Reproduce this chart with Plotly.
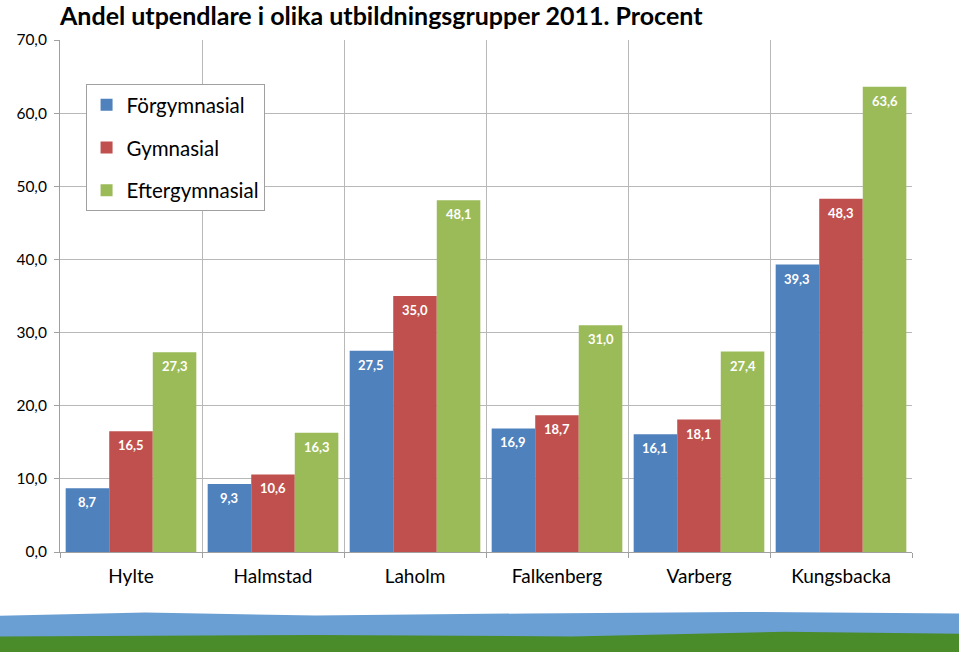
import plotly.graph_objects as go

categories = ["Hylte", "Halmstad", "Laholm", "Falkenberg", "Varberg", "Kungsbacka"]
forgymnasial = [8.7, 9.3, 27.5, 16.9, 16.1, 39.3]
gymnasial = [16.5, 10.6, 35.0, 18.7, 18.1, 48.3]
eftergymnasial = [27.3, 16.3, 48.1, 31.0, 27.4, 63.6]
series_names = ["Förgymnasial", "Gymnasial", "Eftergymnasial"]
colors = ["#4F81BD", "#C0504D", "#9BBB59"]
yticks = [0, 10, 20, 30, 40, 50, 60, 70]

def fmt(v):
    return f"{v:.1f}".replace(".", ",")

FONT = "Lato"
BARGAP = 0.08
bar_w = (1 - BARGAP) / 3

fig = go.Figure()
annotations = []
for k, (name, vals) in enumerate(zip(series_names, [forgymnasial, gymnasial, eftergymnasial])):
    fig.add_trace(go.Bar(
        x=categories, y=vals, name=name, legendgroup=name,
        marker=dict(color=colors[k], line=dict(width=0)),
        hoverinfo="x+y+name",
    ))
    for i, v in enumerate(vals):
        annotations.append(dict(
            x=i + (k - 1) * bar_w, y=v, xref="x", yref="y",
            text=f"<b>{fmt(v)}</b>", showarrow=False,
            yanchor="middle", xanchor="center", yshift=-14,
            font=dict(color="white", size=13, family=FONT),
        ))

annotations.append(dict(
    text="<b>Andel utpendlare i olika utbildningsgrupper 2011. Procent</b>",
    xref="paper", yref="paper", x=-0.004, y=1.0, yshift=25, xanchor="left", yanchor="middle",
    showarrow=False, font=dict(size=25, family=FONT, color="black"),
))

fig.update_layout(
    width=959, height=652,
    margin=dict(l=60, r=47, t=40, b=100),
    paper_bgcolor="white", plot_bgcolor="white",
    barmode="group", bargap=BARGAP, bargroupgap=0,
    font=dict(family=FONT, color="#000000"),
    legend=dict(
        x=0.03, y=0.914, xanchor="left", yanchor="top",
        bordercolor="#A0A0A0", borderwidth=1, bgcolor="white",
        font=dict(size=20.5, family=FONT),
        traceorder="grouped", tracegroupgap=13,
        itemwidth=30,
    ),
    annotations=annotations,
    shapes=[
        dict(type="path", xref="paper", yref="paper",
             path="M -0.08 -0.125 L 0.1 -0.118 L 0.3 -0.124 L 0.55 -0.12 L 0.8 -0.117 L 1.06 -0.12 L 1.06 -0.2 L -0.08 -0.2 Z",
             fillcolor="#6A9FD4", line=dict(width=0), layer="below"),
        dict(type="path", xref="paper", yref="paper",
             path="M -0.08 -0.165 L 0.3 -0.162 L 0.6 -0.165 L 0.85 -0.156 L 1.06 -0.16 L 1.06 -0.2 L -0.08 -0.2 Z",
             fillcolor="#4A8B2A", line=dict(width=0), layer="below"),
    ],
)
fig.update_xaxes(
    type="category", tickson="boundaries", showgrid=True, gridcolor="#B8B8B8", gridwidth=1,
    ticks="outside", ticklen=5, tickcolor="#A0A0A0",
    showline=True, linecolor="#A0A0A0", linewidth=1,
    tickfont=dict(size=19, family=FONT, color="black"),
    ticklabelstandoff=7,
)
fig.update_yaxes(
    range=[0, 70], tickvals=yticks, ticktext=[fmt(v) for v in yticks],
    showgrid=True, gridcolor="#B8B8B8", gridwidth=1,
    ticks="outside", ticklen=5, tickcolor="#A0A0A0",
    showline=True, linecolor="#A0A0A0", linewidth=1, zeroline=False,
    tickfont=dict(size=15.5, family=FONT, color="black"),
    ticklabelstandoff=4,
)
fig.write_html("out.html", config={"displayModeBar": False})

with open("out.html", encoding="utf-8") as f:
    html = f.read()
html = html.replace("<head>", "<head><style>html,body{margin:0;padding:0;overflow:hidden;}</style>", 1)
with open("out.html", "w", encoding="utf-8") as f:
    f.write(html)
